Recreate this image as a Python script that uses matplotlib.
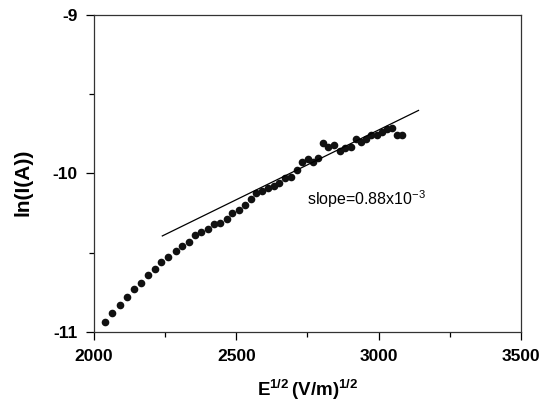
import matplotlib
matplotlib.use('Agg')
import numpy as np
from matplotlib import pyplot as plt
from matplotlib.ticker import MultipleLocator

#-------------------- Dados --------------------
campo = [2040, 2064, 2091, 2115, 2142, 2165, 2191, 2214, 2236, 2261,
         2287, 2309, 2332, 2355, 2376, 2399, 2422, 2444, 2467, 2486,
         2508, 2529, 2552, 2570, 2591, 2610, 2631, 2650, 2671, 2691,
         2713, 2732, 2751, 2770, 2788, 2806, 2823, 2843, 2864, 2882,
         2903, 2920, 2938, 2955, 2973, 2993, 3011, 3028, 3046, 3063, 3081]
lnI = [-10.94, -10.88, -10.83, -10.78, -10.73, -10.69, -10.64, -10.60, -10.56, -10.53,
       -10.49, -10.46, -10.43, -10.39, -10.37, -10.35, -10.32, -10.31, -10.29, -10.25,
       -10.23, -10.20, -10.16, -10.12, -10.11, -10.09, -10.08, -10.06, -10.03, -10.02,
       -9.98, -9.93, -9.91, -9.93, -9.90, -9.81, -9.83, -9.82, -9.86, -9.84,
       -9.83, -9.78, -9.80, -9.78, -9.76, -9.76, -9.74, -9.72, -9.71, -9.76, -9.76]
ajusteX = [2240, 3140]
inclinacao = 0.88e-3
intercepto = -10.394

plt.rcParams['font.family'] = ['Liberation Sans', 'DejaVu Sans']
plt.rcParams['axes.unicode_minus'] = False

#-------------------- Gráfico --------------------
fig = plt.figure(figsize=(5.39, 4.01), dpi=100)
ax = fig.add_axes([0.1744, 0.1721, 0.7922, 0.7905])

ax.plot(campo, lnI, 'o', color='#111111', ms=5.5, mec='none')
ajusteY = [intercepto + inclinacao * (x - ajusteX[0]) for x in ajusteX]
ax.plot(ajusteX, ajusteY, color='black', lw=0.9)
ax.text(2748, -10.16, r'slope=0.88x10$^{\mathregular{-3}}$', fontsize=11.5, va='center', ha='left')

ax.set_xlim(2000, 3500)
ax.set_ylim(-11, -9)
ax.xaxis.set_major_locator(MultipleLocator(500))
ax.xaxis.set_minor_locator(MultipleLocator(250))
ax.yaxis.set_major_locator(MultipleLocator(1))
ax.yaxis.set_minor_locator(MultipleLocator(0.5))
ax.tick_params(which='major', direction='out', length=6, width=0.9, pad=6, labelsize=12.5)
ax.tick_params(which='minor', direction='out', length=3.5, width=0.9)
for lab in ax.get_xticklabels() + ax.get_yticklabels():
    lab.set_fontweight('bold')
for s in ax.spines.values():
    s.set_linewidth(0.9)
    s.set_color('#333333')

ax.set_xlabel(r'$\mathregular{E^{1/2}\,(V/m)^{1/2}}$', fontsize=13.5, fontweight='bold')
ax.set_ylabel('ln(I(A))', fontsize=15, fontweight='bold')
ax.xaxis.set_label_coords(0.5, -0.145)
ax.yaxis.set_label_coords(-0.143, 0.473)

fig.savefig('out.png', dpi=100)
